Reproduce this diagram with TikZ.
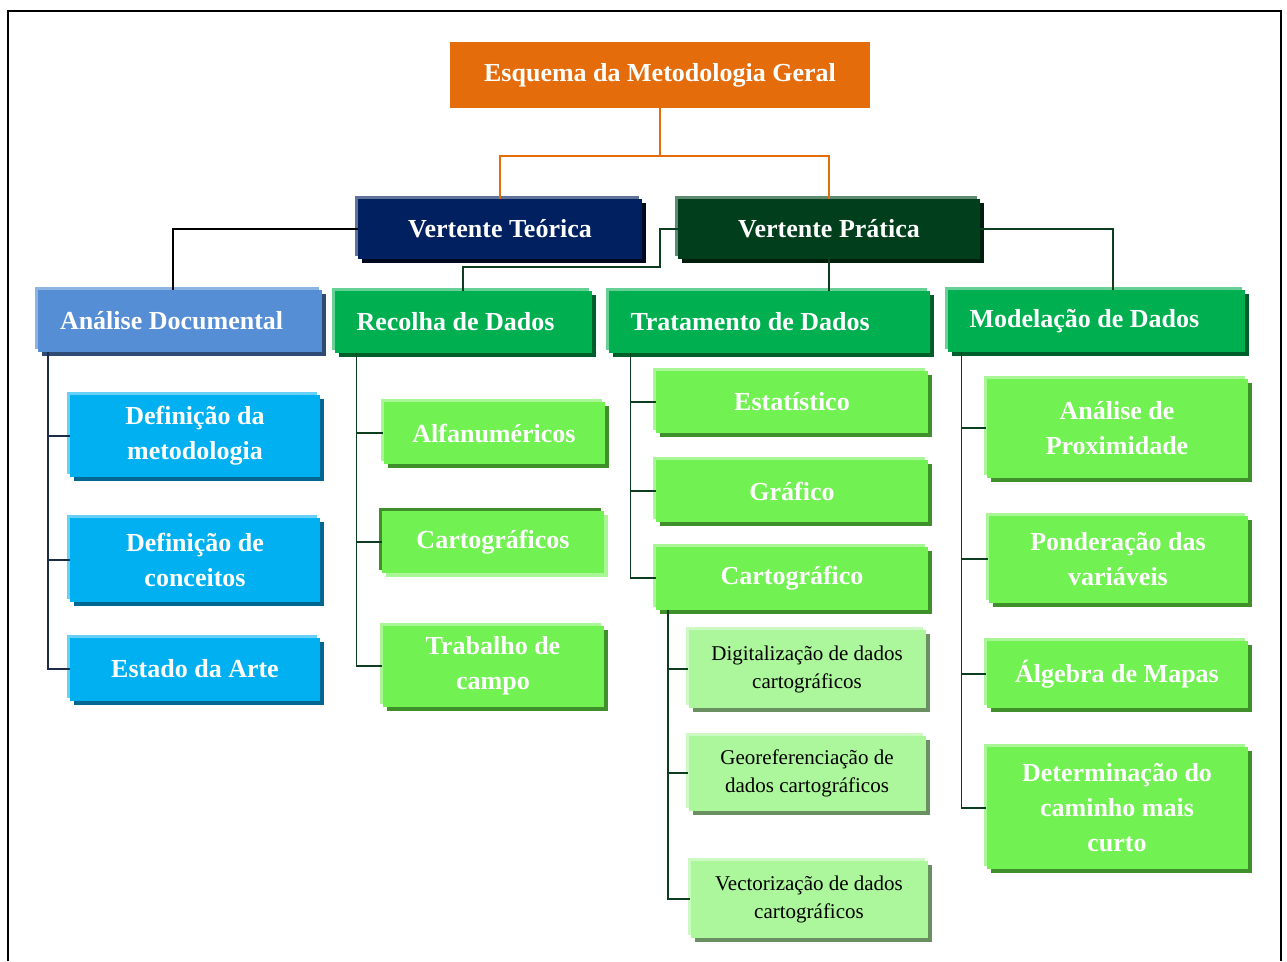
\documentclass[tikz,border=0pt]{standalone}
\usepackage{fontspec}
\setmainfont{Liberation Serif}
\usetikzlibrary{shadows}

\definecolor{orangebox}{HTML}{E46C0A}
\definecolor{navybox}{HTML}{002060}
\definecolor{navylight}{HTML}{5F7399}
\definecolor{navydark}{HTML}{000A1E}
\definecolor{forestbox}{HTML}{003E1C}
\definecolor{forestlight}{HTML}{5E8A70}
\definecolor{forestdark}{HTML}{001E0C}
\definecolor{bluebox}{HTML}{558ED5}
\definecolor{bluelight}{HTML}{8DB3E2}
\definecolor{bluedark}{HTML}{2E4B74}
\definecolor{greenbox}{HTML}{00B050}
\definecolor{greenlight}{HTML}{66D096}
\definecolor{greendark}{HTML}{005E2A}
\definecolor{cyanbox}{HTML}{00B0F0}
\definecolor{cyanlight}{HTML}{66D0F6}
\definecolor{cyandark}{HTML}{006890}
\definecolor{limebox}{HTML}{72F152}
\definecolor{limelight}{HTML}{A8F695}
\definecolor{limedark}{HTML}{3F8F2A}
\definecolor{palebox}{HTML}{ACF69B}
\definecolor{palelight}{HTML}{CDF9C2}
\definecolor{paledark}{HTML}{6A8F60}
\definecolor{navyline}{HTML}{1C2B48}
\definecolor{forestline}{HTML}{0B3D1E}

\newcommand{\boxfont}{\bfseries\fontsize{26}{35}\selectfont}
\newcommand{\subboxfont}{\fontsize{21}{28}\selectfont}

\tikzset{
	bevel/.style n args={3}{fill=#1,
		general shadow={fill=#3, shadow xshift=4pt, shadow yshift=-4pt},
		general shadow={fill=#2, shadow xshift=-3pt, shadow yshift=3pt}},
	box/.style={inner sep=0pt, text=white, font=\boxfont, align=center},
	headbox/.style={box, align=flush left, inner xsep=22pt},
	subbox/.style={inner sep=0pt, text=black, font=\subboxfont, align=center,
		bevel={palebox}{palelight}{paledark}},
	link/.style={line width=1.6pt, forestline},
}

\begin{document}
\begin{tikzpicture}[x=1pt,y=-1pt]
	\useasboundingbox (0,0) rectangle (1287,961);
	\draw[line width=1.6pt] (8,961) -- (8,11) -- (1281,11) -- (1281,961);

	\node[box, fill=orangebox, minimum width=420, minimum height=66] (top) at (660,75) {Esquema da Metodologia Geral};
	\node[box, bevel={navybox}{navylight}{navydark}, minimum width=284, minimum height=60] (teo) at (500,229) {Vertente Teórica};
	\node[box, bevel={forestbox}{forestlight}{forestdark}, minimum width=302, minimum height=60] (pra) at (829,229) {Vertente Prática};

	\node[headbox, bevel={bluebox}{bluelight}{bluedark}, text width=240, minimum height=62] (ana) at (180,321) {Análise Documental};
	\node[headbox, bevel={greenbox}{greenlight}{greendark}, text width=213, minimum height=62] (rec) at (463,322) {Recolha de Dados};
	\node[headbox, bevel={greenbox}{greenlight}{greendark}, text width=277, minimum height=62] (tra) at (769,322) {Tratamento de Dados};
	\node[headbox, bevel={greenbox}{greenlight}{greendark}, text width=253, minimum height=62] (mod) at (1096,321) {Modelação de Dados};

	\node[box, bevel={cyanbox}{cyanlight}{cyandark}, minimum width=250, minimum height=82] (metod) at (195,436) {Definição da\\metodologia};
	\node[box, bevel={cyanbox}{cyanlight}{cyandark}, minimum width=250, minimum height=84] (conc) at (195,560) {Definição de\\conceitos};
	\node[box, bevel={cyanbox}{cyanlight}{cyandark}, minimum width=250, minimum height=63] (arte) at (195,669) {Estado da Arte};

	\node[box, bevel={limebox}{limelight}{limedark}, minimum width=221, minimum height=62] (alfa) at (494,433) {Alfanuméricos};
	\node[box, bevel={limebox}{limedark}{limelight}, minimum width=222, minimum height=62] (cartos) at (493,542) {Cartográficos};
	\node[box, bevel={limebox}{limelight}{limedark}, minimum width=221, minimum height=81] (campo) at (493,666) {Trabalho de\\campo};

	\node[box, bevel={limebox}{limelight}{limedark}, minimum width=272, minimum height=62] (estat) at (792,402) {Estatístico};
	\node[box, bevel={limebox}{limelight}{limedark}, minimum width=272, minimum height=62] (graf) at (792,491) {Gráfico};
	\node[box, bevel={limebox}{limelight}{limedark}, minimum width=272, minimum height=63] (carto) at (792,578) {Cartográfico};

	\node[subbox, minimum width=237, minimum height=78] (digit) at (807,669) {Digitalização de dados\\cartográficos};
	\node[subbox, minimum width=237, minimum height=75] (geor) at (807,773) {Georeferenciação de\\dados cartográficos};
	\node[subbox, minimum width=237, minimum height=77] (vect) at (809,899) {Vectorização de dados\\cartográficos};

	\node[box, bevel={limebox}{limelight}{limedark}, minimum width=261, minimum height=99] (prox) at (1117,428) {Análise de\\Proximidade};
	\node[box, bevel={limebox}{limelight}{limedark}, minimum width=259, minimum height=87] (pond) at (1118,559) {Ponderação das\\variáveis};
	\node[box, bevel={limebox}{limelight}{limedark}, minimum width=261, minimum height=67] (alg) at (1117,674) {Álgebra de Mapas};
	\node[box, bevel={limebox}{limelight}{limedark}, minimum width=261, minimum height=122] (cam) at (1117,808) {Determinação do\\caminho mais\\curto};

	\draw[line width=1.6pt, orangebox] (top.south) -- ++(0,48) -| (teo.north);
	\draw[line width=1.6pt, orangebox] (top.south) -- ++(0,48) -| (pra.north);
	\draw[line width=1.6pt] (teo.west) -| ([xshift=-7pt]ana.north);
	\draw[link] (pra.west) -- ++(-18,0) -- ++(0,38) -| (rec.north);
	\draw[link] (pra.south) -- (pra.south |- tra.north);
	\draw[link] (pra.east) -| ([xshift=17pt]mod.north);

	\draw[line width=1.6pt, navyline] ([xshift=10pt]ana.south west) |- (metod.west);
	\draw[line width=1.6pt, navyline] ([xshift=10pt]ana.south west) |- (conc.west);
	\draw[line width=1.6pt, navyline] ([xshift=10pt]ana.south west) |- (arte.west);

	\draw[link] ([xshift=22pt]rec.south west) |- (alfa.west);
	\draw[link] ([xshift=22pt]rec.south west) |- (cartos.west);
	\draw[link] ([xshift=22pt]rec.south west) |- (campo.west);

	\draw[link] ([xshift=22pt]tra.south west) |- (estat.west);
	\draw[link] ([xshift=22pt]tra.south west) |- (graf.west);
	\draw[link] ([xshift=22pt]tra.south west) |- (carto.west);

	\draw[link] ([xshift=12pt]carto.south west) |- (digit.west);
	\draw[link] ([xshift=12pt]carto.south west) |- (geor.west);
	\draw[link] ([xshift=12pt]carto.south west) |- (vect.west);

	\draw[link] ([xshift=14pt]mod.south west) |- (prox.west);
	\draw[link] ([xshift=14pt]mod.south west) |- (pond.west);
	\draw[link] ([xshift=14pt]mod.south west) |- (alg.west);
	\draw[link] ([xshift=14pt]mod.south west) |- (cam.west);
\end{tikzpicture}
\end{document}
